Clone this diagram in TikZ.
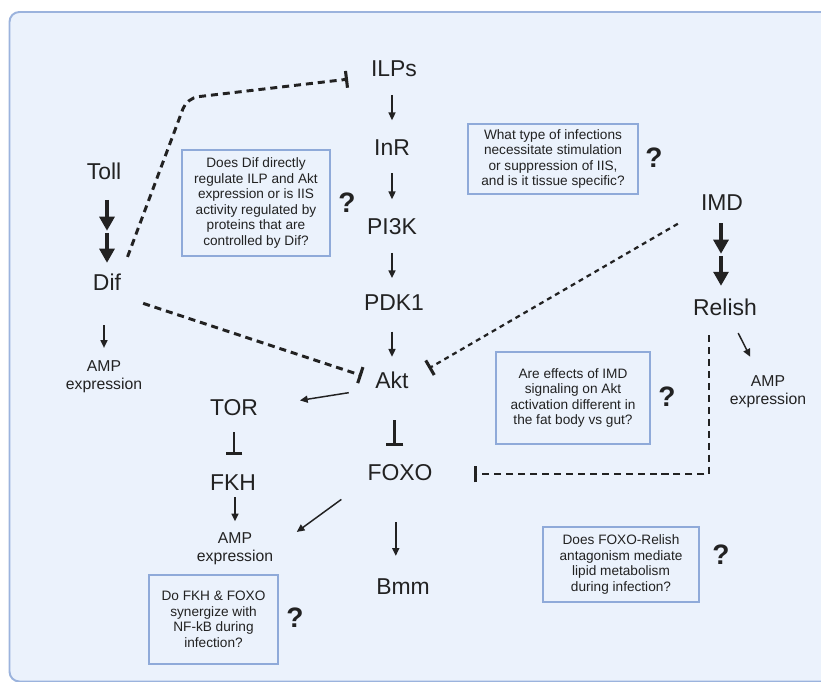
\documentclass[tikz,border=0pt]{standalone}
\usepackage{fontspec}
\setmainfont{Liberation Sans}
\usetikzlibrary{arrows.meta}
\definecolor{panelfill}{HTML}{EBF2FC}
\definecolor{panelline}{HTML}{9BB3DD}
\definecolor{boxline}{HTML}{8FAAD9}
\definecolor{ink}{HTML}{222222}

\tikzset{
  gene/.style={font=\fontsize{16.3}{18}\selectfont, text=ink, inner sep=0pt, text height=11.7pt, text depth=0pt},
  amp/.style={font=\fontsize{11.2}{13}\selectfont, text=ink, align=center, inner sep=0pt},
  qbox/.style={draw=boxline, line width=1.5pt, font=\fontsize{9.7}{11}\selectfont, text=ink, align=center, inner sep=0pt},
  qmark/.style={font=\fontsize{20}{20}\selectfont\bfseries, text=ink, inner sep=0pt},
  act/.style={ink, line width=1.05pt, -{Triangle[length=5.5pt,width=5pt]}},
  bigact/.style={ink, line width=2.6pt, -{Triangle[length=10pt,width=10.5pt]}},
  inhib/.style={ink, line width=1.9pt, -{Bar[width=12pt,line width=2.3pt]}},
  dinhib/.style={ink, line width=2.1pt, dash pattern=on 5pt off 3.5pt, -{Bar[width=12pt,line width=2.2pt]}},
}

\begin{document}
\begin{tikzpicture}[x=0.025cm, y=-0.025cm]
  \useasboundingbox (0,0) rectangle (821,682);
  \clip (0,0) rectangle (821,682);
  \draw[panelline, fill=panelfill, line width=1.4pt, rounded corners=7pt] (9.5,12) rectangle (840,681.5);

  % ── Insulin signalling chain (centre) ──
  \node[gene] (ilps) at (394,68) {ILPs};
  \node[gene] (inr) at (392,147) {InR};
  \node[gene] (pik) at (392,226) {PI3K};
  \node[gene] (pdk) at (394,302) {PDK1};
  \node[gene] (akt) at (392,380) {Akt};
  \node[gene] (foxo) at (400,472) {FOXO};
  \node[gene] (bmm) at (403,586) {Bmm};
  \node[gene] (tor) at (234,407) {TOR};
  \node[gene] (fkh) at (233,482) {FKH};

  % ── Toll and IMD pathways ──
  \node[gene] (toll) at (104,171) {Toll};
  \node[gene] (dif) at (107,282) {Dif};
  \node[gene] (imd) at (722,202) {IMD};
  \node[gene] (relish) at (725,307) {Relish};

  % AMP read-outs
  \node[amp] (ampl) at (104,377) {AMP\\expression};
  \node[amp] (ampm) at (235,549) {AMP\\expression};
  \node[amp] (ampr) at (768,392) {AMP\\expression};

  % ── Open questions ──
  \node[qbox, minimum width=3.7cm, minimum height=2.65cm] (qdif) at (256,203)
    {Does Dif directly\\regulate ILP and Akt\\expression or is IIS\\activity regulated by\\proteins that are\\controlled by Dif?};
  \node[qmark] (qdifm) at (347,203) {?};
  \node[qbox, minimum width=4.25cm, minimum height=1.75cm] (qinf) at (553,159)
    {What type of infections\\necessitate stimulation\\or suppression of IIS,\\and is it tissue specific?};
  \node[qmark] (qinfm) at (654,158) {?};
  \node[qbox, minimum width=3.85cm, minimum height=2.3cm] (qimd) at (573,398)
    {Are effects of IMD\\signaling on Akt\\activation different in\\the fat body vs gut?};
  \node[qmark] (qimdm) at (667,397) {?};
  \node[qbox, minimum width=3.9cm, minimum height=1.875cm] (qrel) at (621,564.5)
    {Does FOXO-Relish\\antagonism mediate\\lipid metabolism\\during infection?};
  \node[qmark] (qrelm) at (721,555) {?};
  \node[qbox, minimum width=3.225cm, minimum height=2.225cm] (qfkh) at (213.5,619.5)
    {Do FKH \& FOXO\\synergize with\\NF-kB during\\infection?};
  \node[qmark] (qfkhm) at (295,618) {?};

  % ── Activations ──
  \draw[act, shorten <=13pt, shorten >=13pt] (ilps.south -| inr) -- (inr.north);
  \draw[act, shorten <=12.5pt, shorten >=13pt] (inr.south) -- (pik.north);
  \draw[act, shorten <=13pt, shorten >=11pt] (pik.south) -- (pik.south |- pdk.north);
  \draw[act, shorten <=15pt, shorten >=10.5pt] (pdk.south -| akt) -- (akt.north);
  \draw[act, shorten <=19pt, shorten >=30pt] (akt.south west) -- (tor.east);
  \draw[act, shorten <=4.7pt, shorten >=8pt] (fkh.south -| ampm) -- (ampm.north);
  \draw[act, shorten <=22.8pt, shorten >=20.6pt] (foxo.south west) -- (ampm.east);
  \draw[act, shorten <=29.6pt, shorten >=15.4pt] ([xshift=-3pt]foxo.south) -- ([xshift=-3pt]foxo.south |- bmm.north);
  \draw[act, shorten <=24.6pt, shorten >=9pt] (dif.south -| ampl) -- (ampl.north);
  \draw[act, shorten <=14pt, shorten >=15pt] (relish) -- (ampr);

  % Toll -> Dif and IMD -> Relish (two-step bold arrows)
  \coordinate (tollmid) at (107,231.5);
  \draw[bigact, shorten <=14.5pt, shorten >=0.5pt] (toll.south -| tollmid) -- (tollmid);
  \draw[bigact, shorten <=1pt, shorten >=7.6pt] (tollmid) -- (dif.north -| tollmid);
  \coordinate (imdmid) at (721,254.5);
  \draw[bigact, shorten <=9pt, shorten >=0.5pt] (imd.south -| imdmid) -- (imdmid);
  \draw[bigact, shorten <=1pt, shorten >=9pt] (imdmid) -- (relish.north -| imdmid);

  % ── Inhibitions ──
  \draw[inhib, shorten <=22.5pt, shorten >=12.5pt] ([xshift=2pt]akt.south) -- ([xshift=2pt]akt.south |- foxo.north);
  \draw[inhib, shorten <=11.8pt, shorten >=13.2pt] (tor.south) -- (tor.south |- fkh.north);

  % dashed: Dif -| ILPs, Dif -| Akt, IMD -| Akt, Relish -| FOXO
  \coordinate (bend) at (187,98);
  \draw[dinhib, rounded corners=8pt, shorten <=12.6pt, shorten >=16.3pt] (dif.north east) -- (bend) -- (ilps.south west);
  \draw[dinhib, shorten <=16.4pt, shorten >=10pt] ([yshift=-4pt]dif.south east) -- (akt.west);
  \draw[dinhib, line width=1.6pt, dash pattern=on 3.5pt off 3pt, shorten <=18.8pt, shorten >=16.3pt] (imd.south west) -- (akt.east);
  \coordinate (elbow) at (709,474);
  \draw[dinhib, line width=1.8pt, shorten <=14pt, shorten >=29pt] (relish.south -| elbow) -- (elbow) -- (foxo.east |- elbow);

\end{tikzpicture}
\end{document}
